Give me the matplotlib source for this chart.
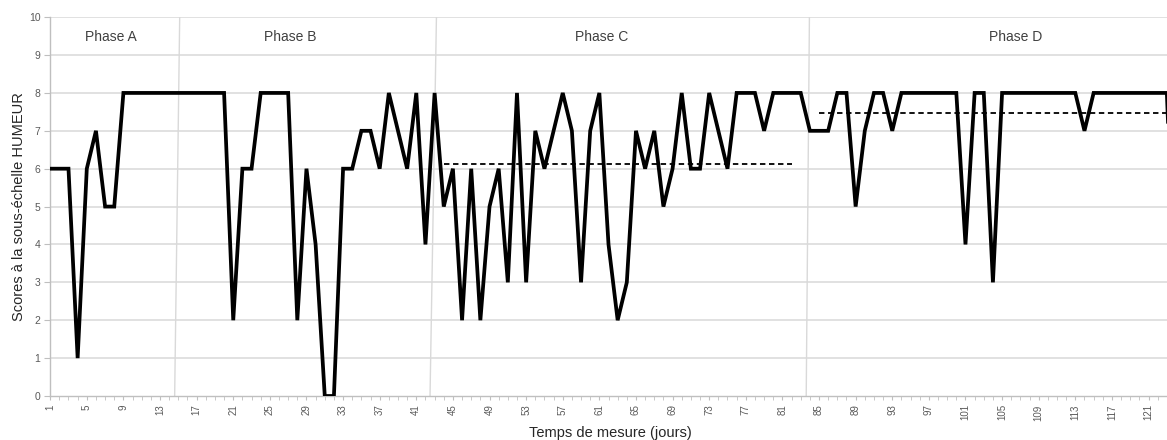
import numpy as np
import matplotlib.pyplot as plt

plt.rcParams['font.family'] = ['Liberation Sans Narrow', 'Liberation Sans', 'DejaVu Sans']

# daily scores (day 1 .. 124)
scores = [6, 6, 6, 1, 6, 7, 5, 5,
          8, 8, 8, 8, 8, 8, 8, 8, 8, 8, 8, 8,
          2, 6, 6, 8, 8, 8, 8, 2, 6, 4, 0, 0, 6, 6, 7, 7, 6, 8, 7, 6, 8, 4,
          8, 5, 6, 2, 6, 2, 5, 6, 3, 8, 3, 7, 6, 7, 8, 7, 3, 7, 8, 4, 2, 3,
          7, 6, 7, 5, 6, 8, 6, 6, 8, 7, 6, 8, 8, 8, 7, 8, 8, 8, 8,
          7, 7, 7, 8, 8, 5, 7, 8, 8, 7, 8, 8, 8, 8, 8, 8, 8, 4, 8, 8, 3,
          8, 8, 8, 8, 8, 8, 8, 8, 8, 7, 8, 8, 8, 8, 8, 8, 8, 8, 8, 2]
days = np.arange(1, len(scores) + 1)

# phase separators (bottom x, top x) and labels
sep_bottom = [14.6, 42.5, 83.6]
sep_top = [15.15, 43.2, 83.95]
phase_names = ["Phase A", "Phase B", "Phase C", "Phase D"]
phase_centers = [7.6, 27.2, 61.3, 106.5]

# mean lines for phases C and D
mean_x = [(44, 82), (85, 124)]
mean_y = [6.13, 7.47]

grey = "#595959"

fig = plt.figure(figsize=(11.67, 4.4), dpi=100)
ax = fig.add_axes([0.043, 0.1, 0.96, 0.861])

ax.set_xlim(1, 123.4)
ax.set_ylim(0, 10)

for y in range(1, 11):
    ax.axhline(y, color="#d9d9d9", lw=1.1, zorder=0)

for xb, xt in zip(sep_bottom, sep_top):
    ax.plot([xb, xt], [0, 10], color="#d9d9d9", lw=1.0, zorder=0)

for name, xc in zip(phase_names, phase_centers):
    ax.text(xc, 9.47, name, ha="center", va="center", fontsize=10, color="#404040")

for (x0, x1), m in zip(mean_x, mean_y):
    ax.plot([x0, x1], [m, m], color="black", lw=1.3, ls=(0, (3, 2)), zorder=2)

ax.plot(days, scores, color="black", lw=2.7, zorder=3, solid_joinstyle="miter")

ax.set_yticks(range(0, 11))
ax.set_xticks(np.arange(1, 124, 4))
ax.set_xticks(np.arange(1, 124, 1), minor=True)
ax.tick_params(axis="x", which="both", direction="out", length=3, color="#bfbfbf",
               labelsize=7, labelcolor=grey, rotation=90, pad=3)
ax.tick_params(axis="y", direction="out", length=4, color="#bfbfbf",
               labelsize=7.5, labelcolor=grey, pad=3)

for s in ["top", "right"]:
    ax.spines[s].set_visible(False)
for s in ["left", "bottom"]:
    ax.spines[s].set_color("#bfbfbf")
    ax.spines[s].set_linewidth(1.0)

ax.set_xlabel("Temps de mesure (jours)", fontsize=10.5, color="#262626",
              family=["Liberation Sans", "DejaVu Sans"], labelpad=4)
ax.set_ylabel("Scores à la sous-échelle HUMEUR", fontsize=10.5, color="#262626",
              family=["Liberation Sans", "DejaVu Sans"])
ax.yaxis.set_label_coords(-0.022, 0.5)

fig.savefig("out.png", dpi=100)
